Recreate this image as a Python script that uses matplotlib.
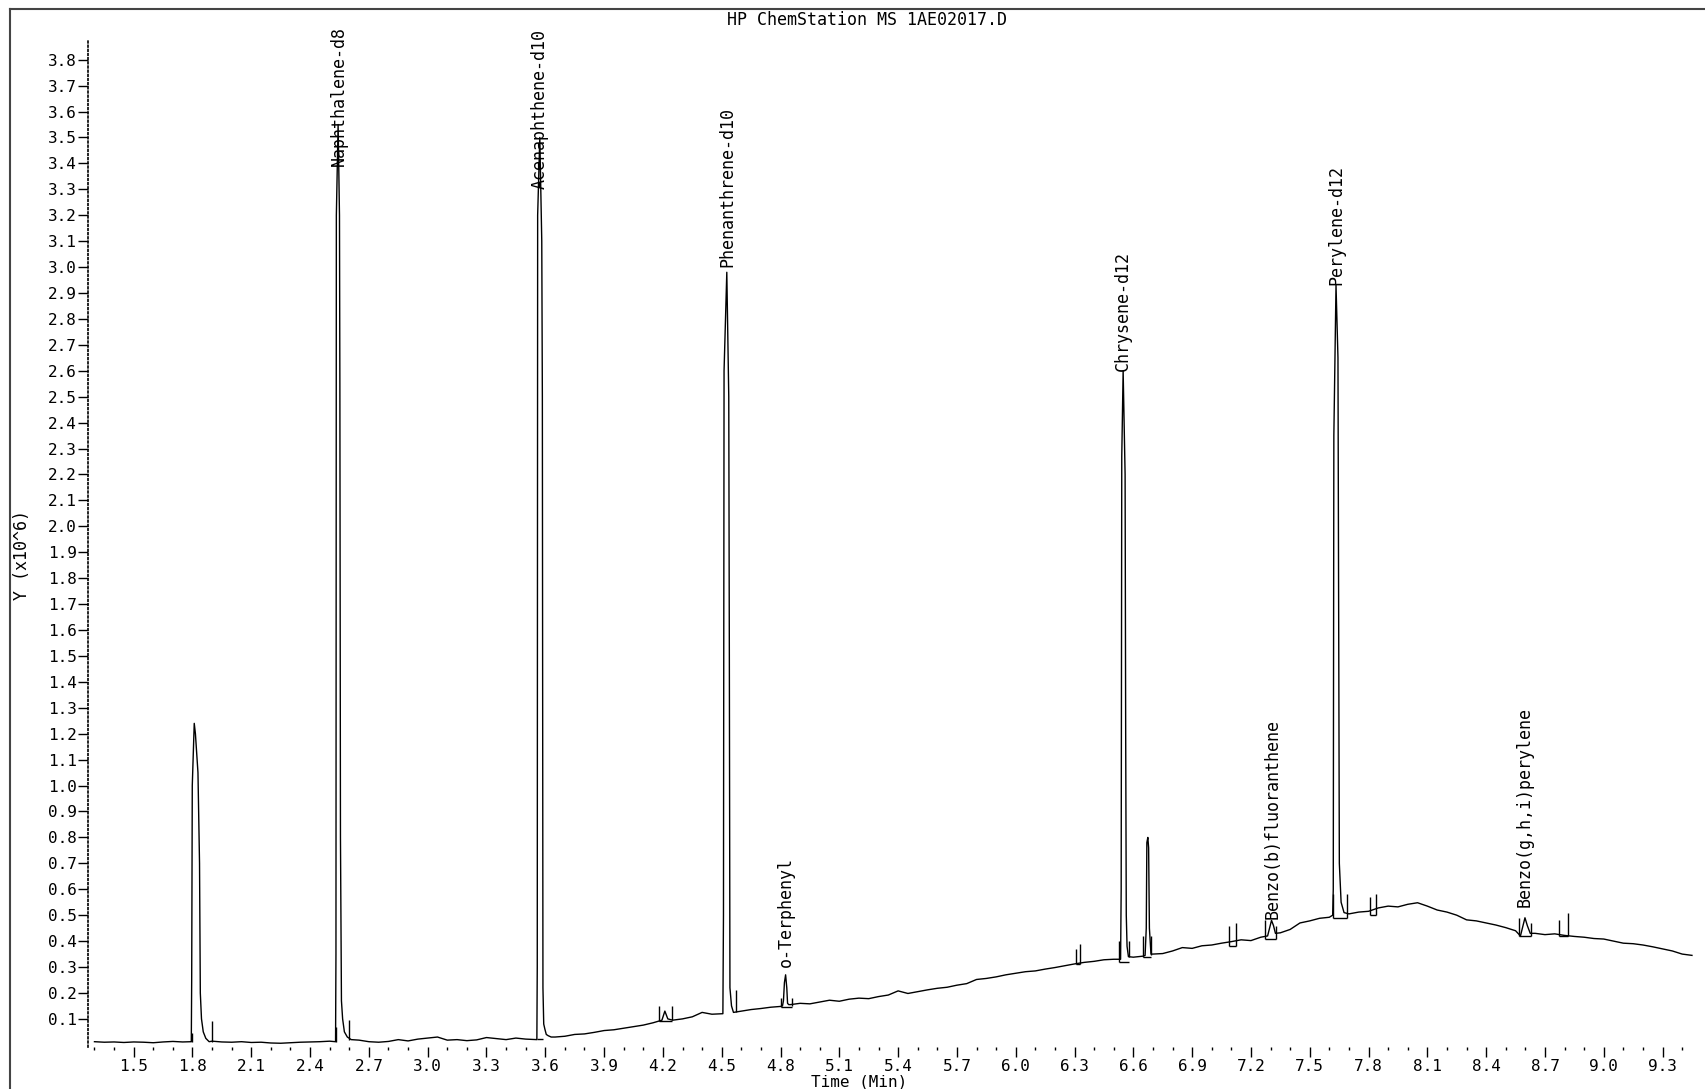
import numpy as np
import matplotlib
matplotlib.use("Agg")
import matplotlib.pyplot as plt
from matplotlib.lines import Line2D

plt.rcParams['font.family'] = ['DejaVu Sans Mono']

# baseline of the trace, one value every 0.05 min from 1.30 to 9.45
base_t = np.round(np.arange(1.30, 9.4501, 0.05), 2)
base_y = [
    .012, .010, .011, .009, .011, .010, .008, .011, .013, .011,
    .011, .012, .014, .011, .010, .012, .009, .010, .007, .006,
    .008, .010, .011, .012, .014, .014, .016, .018, .012, .010,
    .013, .020, .015, .022, .026, .030, .018, .020, .016, .019,
    .028, .024, .020, .026, .022, .020, .022, .030, .033, .040,
    .042, .048, .055, .058, .064, .070, .076, .085, .090, .095,
    .100, .108, .125, .118, .120, .125, .130, .136, .140, .145,
    .148, .155, .160, .158, .165, .172, .168, .176, .180, .178,
    .186, .192, .208, .198, .205, .212, .218, .222, .230, .236,
    .252, .256, .262, .270, .276, .282, .285, .292, .298, .305,
    .312, .318, .322, .328, .330, .335, .338, .342, .350, .352,
    .362, .375, .372, .382, .385, .392, .398, .405, .402, .415,
    .425, .432, .445, .470, .478, .488, .492, .500, .505, .512,
    .515, .528, .535, .532, .542, .548, .535, .520, .512, .500,
    .482, .478, .470, .462, .452, .440, .432, .430, .425, .428,
    .422, .418, .415, .410, .408, .400, .392, .390, .385, .378,
    .370, .362, .350, .345,
]

# peaks (time in min, signal in 10^6)
pk1_t = [1.794, 1.796, 1.799, 1.809, 1.815, 1.828, 1.836, 1.840, 1.846, 1.855, 1.868, 1.885]
pk1_y = [0.012, 0.25, 1.00, 1.24, 1.20, 1.05, 0.70, 0.20, 0.10, 0.05, 0.025, 0.012]
naph_t = [2.530, 2.532, 2.534, 2.543, 2.550, 2.552, 2.555, 2.560, 2.566, 2.575, 2.590, 2.610]
naph_y = [0.012, 0.35, 3.20, 3.55, 3.20, 2.55, 0.80, 0.17, 0.10, 0.05, 0.03, 0.02]
acen_t = [3.557, 3.559, 3.561, 3.572, 3.582, 3.585, 3.588, 3.592, 3.598, 3.605, 3.615, 3.630]
acen_y = [0.020, 0.30, 3.20, 3.50, 3.10, 2.50, 0.22, 0.08, 0.06, 0.04, 0.035, 0.030]
bump42_t = [4.195, 4.210, 4.225]
bump42_y = [0.095, 0.130, 0.100]
phen_t = [4.506, 4.509, 4.512, 4.526, 4.536, 4.539, 4.542, 4.550, 4.560]
phen_y = [0.12, 0.50, 2.60, 2.98, 2.50, 1.50, 0.22, 0.15, 0.125]
terp_t = [4.810, 4.815, 4.820, 4.826, 4.832, 4.836, 4.842]
terp_y = [0.150, 0.170, 0.240, 0.270, 0.220, 0.160, 0.155]
chry_t = [6.535, 6.538, 6.541, 6.548, 6.558, 6.561, 6.564, 6.568, 6.575]
chry_y = [0.33, 0.60, 2.27, 2.60, 2.20, 1.20, 0.50, 0.38, 0.34]
pk667_t = [6.660, 6.666, 6.669, 6.674, 6.678, 6.682, 6.690]
pk667_y = [0.345, 0.45, 0.78, 0.80, 0.76, 0.45, 0.35]
bbf_t = [7.285, 7.295, 7.305, 7.315, 7.325]
bbf_y = [0.42, 0.45, 0.48, 0.46, 0.43]
pery_t = [7.617, 7.620, 7.623, 7.634, 7.644, 7.647, 7.651, 7.660, 7.675]
pery_y = [0.50, 0.60, 2.35, 2.93, 2.65, 1.80, 0.70, 0.55, 0.51]
bghi_t = [8.575, 8.585, 8.598, 8.610, 8.625]
bghi_y = [0.42, 0.45, 0.49, 0.46, 0.43]

peaks = [(pk1_t, pk1_y), (naph_t, naph_y), (acen_t, acen_y), (bump42_t, bump42_y),
         (phen_t, phen_y), (terp_t, terp_y), (chry_t, chry_y), (pk667_t, pk667_y),
         (bbf_t, bbf_y), (pery_t, pery_y), (bghi_t, bghi_y)]

# integration event ticks and box bases
event_t = [1.796, 1.898, 2.532, 2.600, 4.180, 4.245, 4.573, 4.800, 4.860, 6.305, 6.330,
           6.525, 6.578, 6.650, 6.690, 7.090, 7.125, 7.272, 7.330, 7.617, 7.690, 7.805,
           7.840, 8.570, 8.630, 8.770, 8.820]
event_lo = [0.012, 0.012, 0.012, 0.020, 0.090, 0.095, 0.125, 0.147, 0.150, 0.310, 0.310,
            0.320, 0.340, 0.340, 0.345, 0.380, 0.380, 0.410, 0.410, 0.490, 0.490, 0.500,
            0.500, 0.420, 0.420, 0.420, 0.420]
event_hi = [0.045, 0.090, 0.070, 0.096, 0.150, 0.150, 0.210, 0.180, 0.180, 0.370, 0.390,
            0.400, 0.400, 0.420, 0.420, 0.460, 0.470, 0.480, 0.460, 0.580, 0.580, 0.570,
            0.580, 0.490, 0.470, 0.480, 0.510]
box_t0 = [3.559, 4.180, 4.800, 6.305, 6.525, 6.650, 7.090, 7.272, 7.617, 7.805, 8.570, 8.770]
box_t1 = [3.590, 4.245, 4.860, 6.330, 6.578, 6.690, 7.125, 7.330, 7.690, 7.840, 8.630, 8.820]
box_y = [0.022, 0.090, 0.147, 0.310, 0.320, 0.340, 0.380, 0.410, 0.490, 0.500, 0.420, 0.420]

label_names = ["Naphthalene-d8", "Acenaphthene-d10", "Phenanthrene-d10", "o-Terphenyl",
               "Chrysene-d12", "Benzo(b)fluoranthene", "Perylene-d12", "Benzo(g,h,i)perylene"]
label_t = [2.545, 3.572, 4.528, 4.826, 6.546, 7.310, 7.634, 8.598]
label_y = [3.39, 3.30, 3.00, 0.30, 2.60, 0.486, 2.93, 0.53]

# merge baseline and peaks into one trace
pts = []
for t, y in zip(base_t, base_y):
    if not any(pt[0] <= t <= pt[-1] for pt, py in peaks):
        pts.append((t, y))
for pt, py in peaks:
    pts += list(zip(pt, py))
pts.sort()
trace_t = [p[0] for p in pts]
trace_y = [p[1] for p in pts]

W, H = 1705, 1089
fig = plt.figure(figsize=(W / 100, H / 100), dpi=100)
ax_l, ax_r, ax_top, ax_bot = 88, 1700, 40, 1047.4
ax = fig.add_axes([ax_l / W, 1 - ax_bot / H, (ax_r - ax_l) / W, (ax_bot - ax_top) / H])

ax.plot(trace_t, trace_y, color='black', lw=1.0)
ax.vlines(event_t, event_lo, event_hi, color='black', lw=1.0)
ax.hlines(box_y, box_t0, box_t1, color='black', lw=1.0)

for name, t, y in zip(label_names, label_t, label_y):
    ax.text(t, y, name, rotation=90, ha='center', va='bottom', fontsize=12)

ax.set_xlim(1.267, 9.491)
ax.set_ylim(-0.01, 3.876)

ax.set_yticks(np.round(np.arange(0.1, 3.85, 0.1), 1))
ax.set_yticklabels(["%.1f" % v for v in np.arange(0.1, 3.85, 0.1)])
ax.set_xticks(np.round(np.arange(1.5, 9.35, 0.3), 1))
ax.set_xticklabels(["%.1f" % v for v in np.arange(1.5, 9.35, 0.3)])
ax.set_xticks(np.round(np.arange(1.3, 9.45, 0.1), 1), minor=True)

ax.tick_params(axis='y', direction='out', length=7, width=1, pad=1, labelsize=11.5)
ax.tick_params(axis='x', which='major', direction='out', length=7, width=1, pad=1, labelsize=11.5)
ax.tick_params(axis='x', which='minor', direction='out', length=2.5, width=1)

for s in ['top', 'right', 'bottom']:
    ax.spines[s].set_visible(False)
ax.spines['left'].set_linestyle((0, (1, 1.5)))
ax.spines['left'].set_linewidth(1.2)

fig.text(867 / W, 1 - 20 / H, "HP ChemStation MS 1AE02017.D", ha='center', va='center', fontsize=12)
fig.text(22 / W, 1 - 555 / H, "Y (x10^6)", rotation=90, ha='center', va='center', fontsize=12)
fig.text(859 / W, 1 - 1082 / H, "Time (Min)", ha='center', va='center', fontsize=11.5)

# outer frame (left and top edges)
fig.add_artist(Line2D([10 / W, 10 / W], [0, 1 - 9 / H], transform=fig.transFigure, color='#444444', lw=1.5))
fig.add_artist(Line2D([10 / W, 1], [1 - 9 / H, 1 - 9 / H], transform=fig.transFigure, color='#444444', lw=1.5))

fig.savefig("out.png", dpi=100)
